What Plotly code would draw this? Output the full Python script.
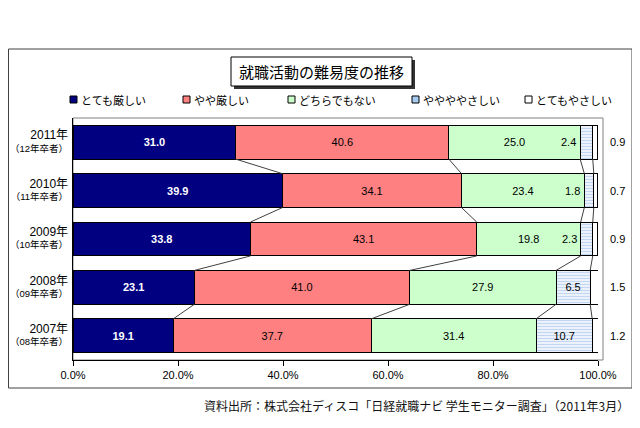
import plotly.graph_objects as go

years = ["2011年", "2010年", "2009年", "2008年", "2007年"]
grads = ["（12年卒者）", "（11年卒者）", "（10年卒者）", "（09年卒者）", "（08年卒者）"]
series_names = ["とても厳しい", "やや厳しい", "どちらでもない", "ややややさしい", "とてもやさしい"]
very_hard = [31.0, 39.9, 33.8, 23.1, 19.1]
somewhat_hard = [40.6, 34.1, 43.1, 41.0, 37.7]
neither = [25.0, 23.4, 19.8, 27.9, 31.4]
somewhat_easy = [2.4, 1.8, 2.3, 6.5, 10.7]
very_easy = [0.9, 0.7, 0.9, 1.5, 1.2]
x_ticks = [0, 20, 40, 60, 80, 100]
x_tick_labels = ["0.0%", "20.0%", "40.0%", "60.0%", "80.0%", "100.0%"]

# page body has an 8px margin: figure origin sits at window (8, 8)
OFF = 8
W, H = 640 - OFF, 428 - OFF
L, R, T, B = 73, 598, 118, 360  # plot area in window pixels
def px(x):
    return (x - L) / (R - L)
def py(y):
    return (B - y) / (B - T)

JP = "Liberation Sans, Arial, Noto Sans CJK JP"
CJK = "Noto Sans CJK JP"
colors = ["#000080", "#FF8080", "#CCFFCC", "#A6CAF0", "#FFFFFF"]
series = [very_hard, somewhat_hard, neither, somewhat_easy, very_easy]
ypos = list(range(len(years)))
bw = 0.7

fig = go.Figure()
for i, (name, vals) in enumerate(zip(series_names, series)):
    kw = dict(x=vals, y=ypos, orientation="h", name=name, width=bw,
              marker=dict(color=colors[i], line=dict(color="black", width=1)),
              showlegend=False, hoverinfo="x+name")
    if i == 0:
        kw.update(text=[f"{v:.1f}" for v in vals], textposition="inside",
                  insidetextanchor="middle", textangle=0,
                  textfont=dict(color="white", size=11, family=JP, weight="bold"))
    elif i in (1, 2):
        kw.update(text=[f"{v:.1f}" for v in vals], textposition="inside",
                  insidetextanchor="middle", textangle=0,
                  textfont=dict(color="black", size=11, family=JP))
    elif i == 3:
        kw["marker"] = dict(color="#FFFFFF", line=dict(color="black", width=1),
                            pattern=dict(shape="-", fgcolor="#86AEE6", bgcolor="#FFFFFF",
                                         size=3, solidity=0.55))
        kw.update(text=[f"{v:.1f}" if v >= 5 else "" for v in vals], textposition="inside",
                  insidetextanchor="middle", textangle=0,
                  textfont=dict(color="black", size=11, family=JP))
    fig.add_trace(go.Bar(**kw))

shapes = []
annotations = []

# connector lines between adjacent bars
cums = []
for j in range(len(years)):
    c, acc = [], 0
    for s in series:
        acc += s[j]
        c.append(acc)
    cums.append(c)
for j in range(len(years) - 1):
    for k in range(4):
        shapes.append(dict(type="line", xref="x", yref="y",
                           x0=cums[j][k], y0=ypos[j] + bw / 2,
                           x1=cums[j + 1][k], y1=ypos[j + 1] - bw / 2,
                           line=dict(color="#404040", width=1)))

# small somewhat_easy labels at the end of green bars; very_easy labels outside
for j in range(len(years)):
    if somewhat_easy[j] < 5:
        annotations.append(dict(x=cums[j][2], y=ypos[j], xref="x", yref="y",
                                text=f"{somewhat_easy[j]:.1f}", showarrow=False,
                                xanchor="right", yanchor="middle", xshift=-2,
                                font=dict(size=11, color="black", family=JP)))
    annotations.append(dict(x=px(617), y=ypos[j], xref="paper", yref="y",
                            text=f"{very_easy[j]:.1f}", showarrow=False,
                            xanchor="center", yanchor="middle",
                            font=dict(size=11, color="black", family=JP)))

# plot area border
shapes.append(dict(type="rect", xref="paper", yref="paper", x0=0, x1=px(603), y0=0, y1=1,
                   line=dict(color="#808080", width=1), layer="below"))
# outer frame
shapes.append(dict(type="rect", xref="paper", yref="paper", x0=px(8.5), x1=px(632),
                   y0=py(388), y1=py(49), line=dict(color="#404040", width=1), layer="below"))

# title box with shadow
shapes.append(dict(type="rect", xref="paper", yref="paper", x0=px(234), x1=px(415),
                   y0=py(89), y1=py(60), fillcolor="#333333", line=dict(width=0), layer="below"))
shapes.append(dict(type="rect", xref="paper", yref="paper", x0=px(231), x1=px(412),
                   y0=py(86), y1=py(57), fillcolor="white", line=dict(color="black", width=1),
                   layer="below"))
annotations.append(dict(x=px(321.5), y=py(71.5), xref="paper", yref="paper",
                        text="就職活動の難易度の推移", showarrow=False,
                        xanchor="center", yanchor="middle",
                        font=dict(size=15, color="black", family=CJK)))

# legend (manual)
leg_x = [70, 183, 288, 412, 525]
for i, name in enumerate(series_names):
    shapes.append(dict(type="rect", xref="paper", yref="paper",
                       x0=px(leg_x[i]), x1=px(leg_x[i] + 7), y0=py(103), y1=py(96),
                       fillcolor=colors[i], line=dict(color="black", width=1)))
    annotations.append(dict(x=px(leg_x[i] + 9), y=py(99.5), xref="paper", yref="paper",
                            text=name, showarrow=False, xanchor="left", yanchor="middle",
                            font=dict(size=11, color="black", family=CJK)))

# source
annotations.append(dict(x=px(631), y=py(405), xref="paper", yref="paper",
                        text="資料出所：株式会社ディスコ「日経就職ナビ 学生モニター調査」（2011年3月）",
                        showarrow=False, xanchor="right", yanchor="middle",
                        font=dict(size=12, color="#111111", family=CJK)))

fig.update_layout(
    width=W, height=H,
    margin=dict(l=L - OFF, r=W - (R - OFF), t=T - OFF, b=H - (B - OFF), pad=0, autoexpand=False),
    paper_bgcolor="white", plot_bgcolor="white",
    barmode="stack", bargap=0.3,
    shapes=shapes, annotations=annotations,
    font=dict(family=JP, color="black"),
)
fig.update_xaxes(range=[0, 100], tickvals=x_ticks, ticktext=x_tick_labels,
                 showgrid=False, zeroline=False, showline=True, linecolor="black",
                 ticks="outside", ticklen=5, tickcolor="black", automargin=False,
                 tickfont=dict(size=11, family=JP), fixedrange=True)
fig.update_yaxes(range=[len(years) - 0.5, -0.5], tickvals=ypos,
                 ticktext=[f"<span style='font-size:12px'>{y}</span><br>{g}"
                           for y, g in zip(years, grads)],
                 showgrid=False, zeroline=False, showline=True, linecolor="black",
                 ticks="", ticklabelstandoff=2, automargin=False,
                 tickfont=dict(size=9.5, family=JP), fixedrange=True)

fig.write_html("out.html")
